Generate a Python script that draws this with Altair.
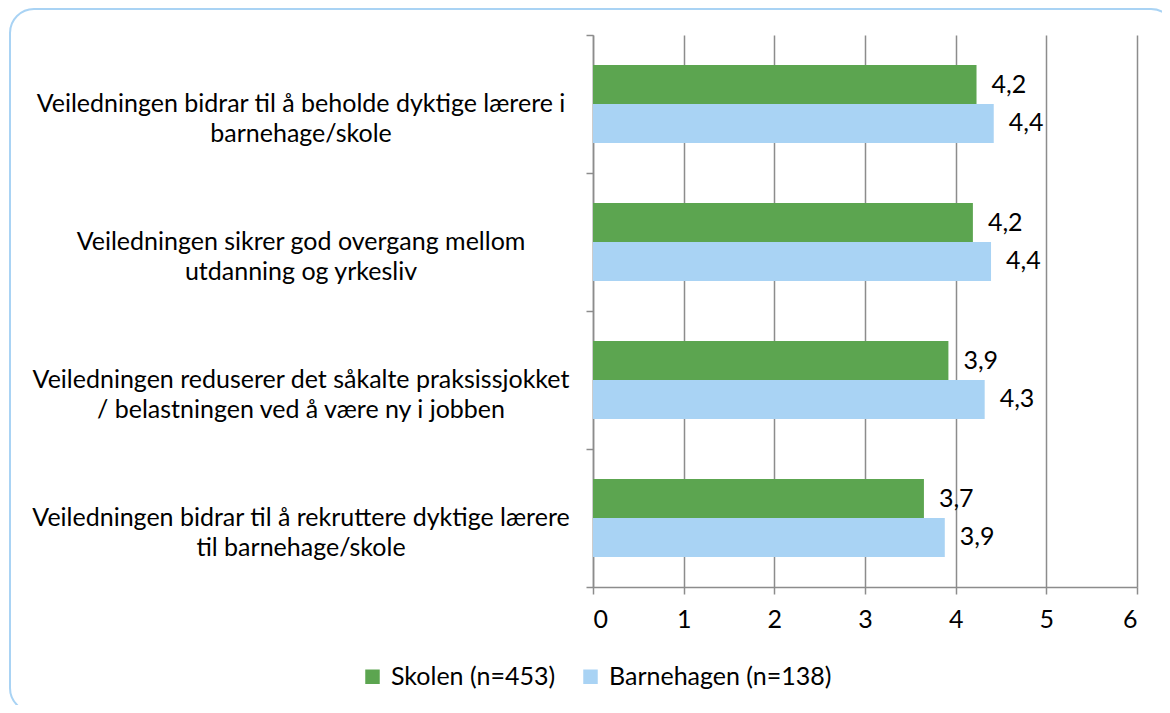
import altair as alt
import pandas as pd

categories = [
    "Veiledningen bidrar til å beholde dyktige lærere i\nbarnehage/skole",
    "Veiledningen sikrer god overgang mellom\nutdanning og yrkesliv",
    "Veiledningen reduserer det såkalte praksissjokket\n/ belastningen ved å være ny i jobben",
    "Veiledningen bidrar til å rekruttere dyktige lærere\ntil barnehage/skole",
]
series = ["Skolen (n=453)", "Barnehagen (n=138)"]
skolen = [4.23, 4.19, 3.92, 3.65]
barnehagen = [4.42, 4.39, 4.32, 3.88]
skolen_labels = ["4,2", "4,2", "3,9", "3,7"]
barnehagen_labels = ["4,4", "4,4", "4,3", "3,9"]
x_ticks = [0, 1, 2, 3, 4, 5, 6]
colors = ["#5CA550", "#A9D3F4"]

rows = []
for i, c in enumerate(categories):
    rows.append({"cat": c, "series": series[0], "value": skolen[i], "label": skolen_labels[i]})
    rows.append({"cat": c, "series": series[1], "value": barnehagen[i], "label": barnehagen_labels[i]})
df = pd.DataFrame(rows)
cat_df = pd.DataFrame({"cat": categories})

FONT = "Lato"
FS = 25
W, H = 544, 552

y_enc = alt.Y("cat:N", sort=categories,
              scale=alt.Scale(paddingInner=0, paddingOuter=0),
              axis=alt.Axis(labels=False, title=None, tickBand="extent", domainColor="#8C8C8C",
                            tickColor="#8C8C8C", tickSize=7, domainWidth=1.5, tickWidth=1.5, grid=False))
yoff = alt.YOffset("series:N", sort=series, scale=alt.Scale(paddingInner=0, paddingOuter=0.77))
x_enc = alt.X("value:Q", scale=alt.Scale(domain=[0, 6], nice=False),
              axis=alt.Axis(values=x_ticks, title=None, grid=True, gridColor="#8C8C8C", gridWidth=1.5,
                            domainColor="#8C8C8C", domainWidth=1.5, tickColor="#8C8C8C", tickWidth=1.5,
                            tickSize=7, labelFontSize=FS, labelFont=FONT, labelColor="#000000",
                            labelPadding=13, format="d"))

border = alt.Chart(pd.DataFrame({"a": [0]})).mark_rect(
    fillOpacity=0, stroke="#A9D3F4", strokeWidth=2, cornerRadius=24
).encode(x=alt.value(-583), x2=alt.value(582), y=alt.value(-26), y2=alt.value(677))

bars = alt.Chart(df).mark_bar().encode(
    y=y_enc, yOffset=yoff, x=x_enc,
    color=alt.Color("series:N", sort=series,
                    scale=alt.Scale(domain=series, range=colors),
                    legend=alt.Legend(title=None, orient="none", legendX=-233, legendY=629,
                                      direction="horizontal", symbolType="square", symbolSize=210,
                                      symbolStrokeWidth=0, labelFontSize=FS, labelFont=FONT,
                                      labelColor="#000000", columnPadding=22, labelOffset=6,
                                      labelLimit=400)),
)

labels = alt.Chart(df).mark_text(align="left", baseline="middle", dx=15, fontSize=FS, font=FONT,
                                 color="#000000").encode(
    y=alt.Y("cat:N", sort=categories), yOffset=alt.YOffset("series:N", sort=series),
    x=alt.X("value:Q"), text="label:N")

cat_text = alt.Chart(cat_df).mark_text(align="center", baseline="middle", lineBreak="\n",
                                       fontSize=FS, font=FONT, lineHeight=30, color="#000000").encode(
    y=alt.Y("cat:N", sort=categories), x=alt.value(-292), text="cat:N")

chart = alt.layer(border, bars, labels, cat_text).properties(
    width=W, height=H,
    autosize=alt.AutoSizeParams(type="none"),
    padding={"left": 585, "top": 27, "right": 25, "bottom": 118},
).configure_view(strokeWidth=0)

chart.save("out.html", embed_options={"renderer": "svg", "actions": False})
